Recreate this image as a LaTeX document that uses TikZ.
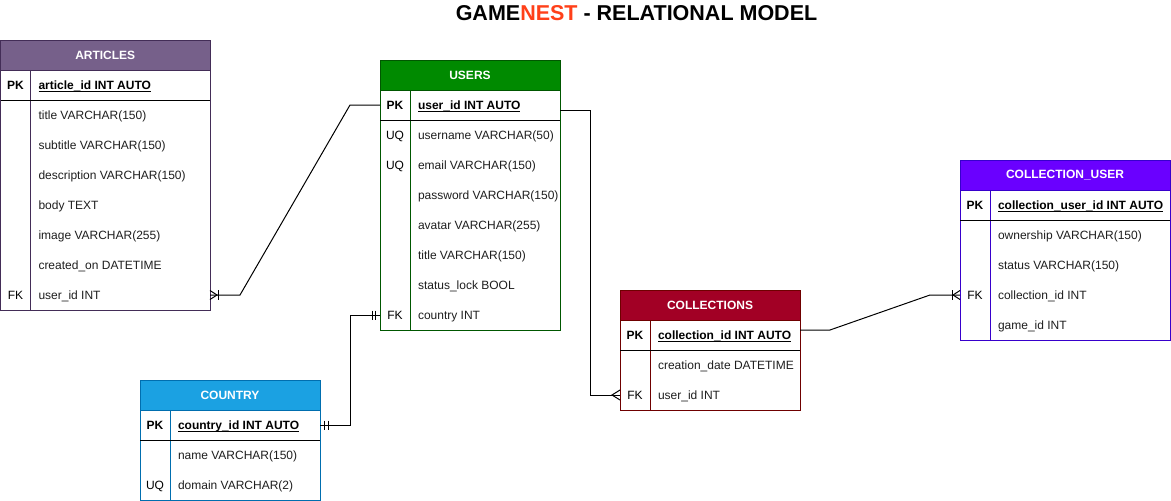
\documentclass[tikz,border=0pt]{standalone}
\usepackage{fontspec}
\setmainfont{Liberation Sans}
\usetikzlibrary{calc}
\definecolor{artF}{HTML}{76608A}\definecolor{artB}{HTML}{432D57}
\definecolor{usrF}{HTML}{008A00}\definecolor{usrB}{HTML}{005700}
\definecolor{colF}{HTML}{A20025}\definecolor{colB}{HTML}{6F0000}
\definecolor{cuF}{HTML}{6A00FF}\definecolor{cuB}{HTML}{3700CC}
\definecolor{ctyF}{HTML}{1BA1E2}\definecolor{ctyB}{HTML}{006EAF}
\definecolor{nest}{HTML}{FF4019}
\definecolor{fld}{HTML}{1F1F1F}
\tikzset{
  tframe/.style={draw, fill=white, line width=1pt, inner sep=0pt, outer sep=0pt},
  thead/.style={draw, line width=1pt, inner sep=0pt, outer sep=0pt, minimum height=30pt,
    text=white, font=\bfseries\fontsize{12}{14}\selectfont},
  rowbox/.style={inner sep=0pt, outer sep=0pt, minimum height=30pt},
  txt/.style={inner sep=0pt, outer sep=0pt, text=fld, font=\fontsize{12}{14}\selectfont},
  btxt/.style={inner sep=0pt, outer sep=0pt, font=\bfseries\fontsize{12}{14}\selectfont},
  conn/.style={line width=1pt, black},
}
% #1 name, #2 left, #3 top, #4 width, #5 rows, #6 fill, #7 border, #8 title
\newcommand{\ertable}[8]{%
  \node[tframe, draw=#7, minimum width=#4, minimum height={(#5+1)*30}, anchor=north west] (#1) at (#2,#3) {};
  \node[thead, fill=#6, draw=#7, minimum width=#4, anchor=north west] (#1-h) at (#2,#3) {#8};
}
\newcommand{\erlines}[2]{%
  \draw[line width=1pt, #2] ($(#1-h.south west)+(30,0)$) -- ($(#1.south west)+(30,0)$);
  \draw[line width=1pt, black] ($(#1-h.south west)+(0,30)$) -- ($(#1-h.south east)+(0,30)$);
}
% #1 name, #2 left, #3 center y, #4 width, #5 field
\newcommand{\pkrow}[5]{%
  \node[rowbox, minimum width=#4] (#1) at ({#2+#4/2},#3) {};
  \node[btxt, anchor=base] (#1-k) at ({#2+15},{#3+4}) {PK};
  \node[btxt, anchor=base west] (#1-f) at ({#2+38},{#3+4}) {#5};
  \draw[line width=1pt] ($(#1-f.base west)+(0,2.5)$) -- ($(#1-f.base east)+(0,2.5)$);
}
% #1 name, #2 left, #3 center y, #4 width, #5 key, #6 field
\newcommand{\frow}[6]{%
  \node[rowbox, minimum width=#4] (#1) at ({#2+#4/2},#3) {};
  \node[txt, text=black, anchor=base] (#1-k) at ({#2+15},{#3+4}) {#5};
  \node[txt, anchor=base west] (#1-f) at ({#2+38},{#3+4}) {#6};
}
\begin{document}
\begin{tikzpicture}[x=1pt, y=-1pt]
\fill[white] (0,0) rectangle (1171,501);
\useasboundingbox (0,0) rectangle (1171,501);

\node[font=\bfseries\fontsize{21.5}{25}\selectfont, inner sep=0pt] (title) at (636.5,13.5)
  {GAME\textcolor{nest}{NEST} - RELATIONAL MODEL};

% ARTICLES
\ertable{art}{0.5}{40}{209.5}{8}{artF}{artB}{ARTICLES}
\pkrow{art-pk}{0.5}{85}{209.5}{article\_id INT AUTO}
\frow{art-title}{0.5}{115}{209.5}{}{title VARCHAR(150)}
\frow{art-sub}{0.5}{145}{209.5}{}{subtitle VARCHAR(150)}
\frow{art-desc}{0.5}{175}{209.5}{}{description VARCHAR(150)}
\frow{art-body}{0.5}{205}{209.5}{}{body TEXT}
\frow{art-img}{0.5}{235}{209.5}{}{image VARCHAR(255)}
\frow{art-cre}{0.5}{265}{209.5}{}{created\_on DATETIME}
\frow{art-uid}{0.5}{295}{209.5}{FK}{user\_id INT}
\erlines{art}{artB}

% USERS
\ertable{usr}{380}{60}{180}{8}{usrF}{usrB}{USERS}
\pkrow{usr-pk}{380}{105}{180}{user\_id INT AUTO}
\frow{usr-name}{380}{135}{180}{UQ}{username VARCHAR(50)}
\frow{usr-mail}{380}{165}{180}{UQ}{email VARCHAR(150)}
\frow{usr-pass}{380}{195}{180}{}{password VARCHAR(150)}
\frow{usr-av}{380}{225}{180}{}{avatar VARCHAR(255)}
\frow{usr-title}{380}{255}{180}{}{title VARCHAR(150)}
\frow{usr-lock}{380}{285}{180}{}{status\_lock BOOL}
\frow{usr-cty}{380}{315}{180}{FK}{country INT}
\erlines{usr}{usrB}

% COUNTRY
\ertable{cty}{140}{380}{180}{3}{ctyF}{ctyB}{COUNTRY}
\pkrow{cty-pk}{140}{425}{180}{country\_id INT AUTO}
\frow{cty-name}{140}{455}{180}{}{name VARCHAR(150)}
\frow{cty-dom}{140}{485}{180}{UQ}{domain VARCHAR(2)}
\erlines{cty}{ctyB}

% COLLECTIONS
\ertable{col}{620}{290}{180}{3}{colF}{colB}{COLLECTIONS}
\pkrow{col-pk}{620}{335}{180}{collection\_id INT AUTO}
\frow{col-date}{620}{365}{180}{}{creation\_date DATETIME}
\frow{col-uid}{620}{395}{180}{FK}{user\_id INT}
\erlines{col}{colB}

% COLLECTION_USER
\ertable{cu}{960}{160}{210}{5}{cuF}{cuB}{COLLECTION\_USER}
\pkrow{cu-pk}{960}{205}{210}{collection\_user\_id INT AUTO}
\frow{cu-own}{960}{235}{210}{}{ownership VARCHAR(150)}
\frow{cu-stat}{960}{265}{210}{}{status VARCHAR(150)}
\frow{cu-cid}{960}{295}{210}{FK}{collection\_id INT}
\frow{cu-gid}{960}{325}{210}{}{game\_id INT}
\erlines{cu}{cuB}

% connectors
\draw[conn] (art-uid.east) -- ++(30,0) -- ($(usr-pk.west)+(-30,0)$) -- (usr-pk.west);
\draw[conn] (usr-cty.west) -- ++(-30,0) |- (cty-pk.east);
\draw[conn] ($(usr-pk.east)+(0,5)$) -- ++(30,0) |- (col-uid.west);
\draw[conn] ($(col-pk.east)+(0,-5)$) -- ++(30,0) -- ($(cu-cid.west)+(-30,0)$) -- (cu-cid.west);

% ends: one-to-many at ARTICLES
\draw[conn] ($(art-uid.east)+(0,-4.5)$) -- ($(art-uid.east)+(7,0)$) -- ($(art-uid.east)+(0,4.5)$);
\draw[conn] ($(art-uid.east)+(8,-5)$) -- ($(art-uid.east)+(8,5)$);
% one-to-many at COLLECTION_USER
\draw[conn] ($(cu-cid.west)+(0,-4.5)$) -- ($(cu-cid.west)+(-7,0)$) -- ($(cu-cid.west)+(0,4.5)$);
\draw[conn] ($(cu-cid.west)+(-8,-5)$) -- ($(cu-cid.west)+(-8,5)$);
% many at COLLECTIONS
\draw[conn] ($(col-uid.west)+(0,-5)$) -- ($(col-uid.west)+(-8,0)$) -- ($(col-uid.west)+(0,5)$);
% mandatory one at USERS and COUNTRY
\draw[conn] ($(usr-cty.west)+(-4.5,-4.5)$) -- ($(usr-cty.west)+(-4.5,4.5)$);
\draw[conn] ($(usr-cty.west)+(-8,-4.5)$) -- ($(usr-cty.west)+(-8,4.5)$);
\draw[conn] ($(cty-pk.east)+(4.5,-4.5)$) -- ($(cty-pk.east)+(4.5,4.5)$);
\draw[conn] ($(cty-pk.east)+(8,-4.5)$) -- ($(cty-pk.east)+(8,4.5)$);
\end{tikzpicture}
\end{document}
